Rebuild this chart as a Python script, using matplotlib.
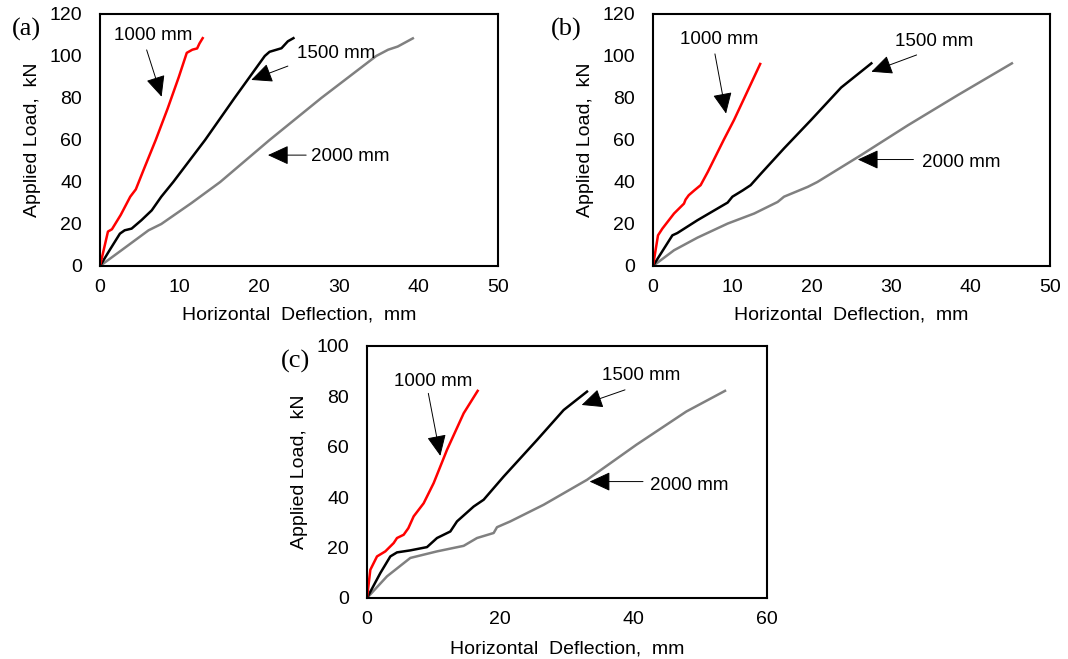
import numpy as np
import matplotlib
matplotlib.use("Agg")
import matplotlib.pyplot as plt

plt.rcParams["font.family"] = ["Liberation Sans", "DejaVu Sans"]

# ============================================================
# DONNÉES
# ============================================================

# (a)
a_red_x = [0, 1.0, 1.5, 2.6, 3.8, 4.5, 5.5, 7.0, 8.5, 9.9, 10.9, 11.6, 12.2, 12.5, 12.9]
a_red_y = [0, 16.4, 17.5, 24.3, 33, 36.5, 46, 60, 75, 90, 101.5, 103, 103.6, 106, 108.5]
a_blk_x = [0, 1.2, 2.5, 3.1, 3.97, 5.2, 6.5, 7.7, 9.2, 11.2, 13.2, 16.9, 20.7, 21.3, 22.8, 23.6, 24.3]
a_blk_y = [0, 7.5, 15.4, 17, 17.8, 21.8, 26.5, 33, 40, 50, 60, 80, 100, 102, 103.7, 107, 108.5]
a_gry_x = [0, 2.7, 6.1, 7.7, 11.5, 15.1, 21.3, 27.8, 34.7, 36.2, 37.4, 39.3]
a_gry_y = [0, 7.5, 17, 20, 30, 40, 60, 80, 100, 103, 104.5, 108.4]

# (b)
b_red_x = [0, 0.63, 1.18, 2.65, 3.9, 4.1, 4.5, 5.2, 6.0, 6.9, 8.9, 10.2, 11.5, 13.5]
b_red_y = [0, 14.6, 17.8, 25, 29.7, 31.6, 33.7, 36, 38.5, 44.8, 60, 69.5, 80, 96.2]
b_blk_x = [0, 2.44, 3.07, 5.6, 9.4, 10.0, 11.3, 12.3, 13.6, 16.5, 19.9, 23.7, 27.5]
b_blk_y = [0, 14.6, 15.7, 21.8, 30.2, 33, 36, 38.5, 44, 56, 69.5, 85, 96.5]
b_gry_x = [0, 2.65, 5.6, 9.4, 12.75, 15.7, 16.5, 19.5, 20.7, 26.2, 32.1, 38.4, 45.2]
b_gry_y = [0, 7.5, 13.5, 20.2, 25, 30.5, 33, 37.7, 40, 52.8, 67, 81.4, 96.5]

# (c)
c_red_x = [0, 0.5, 1.5, 2.75, 4.0, 4.5, 5.5, 6.2, 7.0, 8.5, 10.0, 12.0, 14.5, 16.6]
c_red_y = [0, 11.2, 16.5, 18.5, 21.8, 23.8, 25.1, 27.7, 32.4, 37.6, 45.6, 58.8, 73.3, 82.2]
c_blk_x = [0, 2.0, 3.5, 4.5, 6.5, 9.0, 10.5, 12.5, 13.5, 16.0, 17.5, 20.5, 25.5, 29.5, 33.0]
c_blk_y = [0, 9.9, 16.5, 18.1, 18.9, 20.2, 23.8, 26.4, 30.4, 36.3, 39, 48.2, 62.7, 74.6, 81.9]
c_gry_x = [0, 3.0, 6.5, 10.5, 14.5, 16.5, 19.0, 19.5, 21.5, 26.5, 33, 40.4, 47.9, 53.7]
c_gry_y = [0, 8.6, 15.9, 18.5, 20.7, 23.8, 25.8, 28.1, 30.4, 37, 46.9, 60.8, 74, 82.2]

labels = ["1000 mm", "1500 mm", "2000 mm"]

# annotations : (texte x, texte y, queue x, queue y, tête x, tête y)
a_notes = [(6.7, 110, 5.86, 102.9, 7.74, 80.6),
           (29.7, 101, 23.6, 95.2, 19.0, 88.6),
           (31.4, 52, 25.9, 52.8, 21.1, 52.8)]
b_notes = [(8.3, 108, 7.8, 101, 9.2, 72.6),
           (35.4, 106.8, 33.2, 100.5, 27.5, 92.5),
           (38.8, 49.3, 32.8, 50.7, 25.8, 50.7)]
c_notes = [(9.9, 86.1, 9.2, 81.2, 11.0, 56.4),
           (41.2, 88.1, 38.7, 82.6, 32.2, 76.6),
           (48.3, 44.8, 41.4, 46.2, 33.4, 46.2)]


# ============================================================
# TRACÉ
# ============================================================

W, H = 1068.0, 659.0
fig = plt.figure(figsize=(W / 100, H / 100), dpi=100)


def rect_px(left, top, right, bottom):
    # cadre en pixels -> fraction de figure
    return [left / W, 1 - bottom / H, (right - left) / W, (bottom - top) / H]


panels = [
    ("(a)", (26, 29), rect_px(100, 14, 498, 266), 8,
     (a_red_x, a_red_y, a_blk_x, a_blk_y, a_gry_x, a_gry_y), a_notes, 50, 10, 120, 20),
    ("(b)", (566, 29), rect_px(653, 14, 1050, 266), 8,
     (b_red_x, b_red_y, b_blk_x, b_blk_y, b_gry_x, b_gry_y), b_notes, 50, 10, 120, 20),
    ("(c)", (295, 361), rect_px(367, 346, 767, 598), 9,
     (c_red_x, c_red_y, c_blk_x, c_blk_y, c_gry_x, c_gry_y), c_notes, 60, 20, 100, 20),
]

for tag, tagpos, rect, xpad, series, notes, xmax, xstep, ymax, ystep in panels:
    ax = fig.add_axes(rect)
    rx, ry, kx, ky, gx, gy = series
    ax.plot(gx, gy, color="#808080", lw=1.8)
    ax.plot(kx, ky, color="black", lw=1.8)
    ax.plot(rx, ry, color="#FF0000", lw=1.8)

    for lab, (tx, ty, sx, sy, hx, hy) in zip(labels, notes):
        ax.annotate("", xy=(hx, hy), xytext=(sx, sy),
                    arrowprops=dict(arrowstyle="-|>,head_length=1.3,head_width=0.6",
                                    lw=0.7, color="black", shrinkA=0, shrinkB=0))
        ax.text(tx, ty, lab, fontsize=13.5, ha="center", va="center")

    ax.set_xlim(0, xmax)
    ax.set_ylim(0, ymax)
    ax.set_xticks(np.arange(0, xmax + 1, xstep))
    ax.set_yticks(np.arange(0, ymax + 1, ystep))
    ax.tick_params(length=0, labelsize=14)
    ax.tick_params(axis="y", pad=13)
    ax.tick_params(axis="x", pad=9)
    for s in ax.spines.values():
        s.set_linewidth(1.5)
    ax.set_xlabel("Horizontal  Deflection,  mm", fontsize=14, labelpad=xpad)
    ax.set_ylabel("Applied Load,  kN", fontsize=14, labelpad=6)

    # étiquette du panneau
    fig.text(tagpos[0] / W, 1 - tagpos[1] / H, tag, fontsize=19,
             family=["Liberation Serif", "DejaVu Serif"], ha="center", va="center")

fig.savefig("out.png", dpi=100)
